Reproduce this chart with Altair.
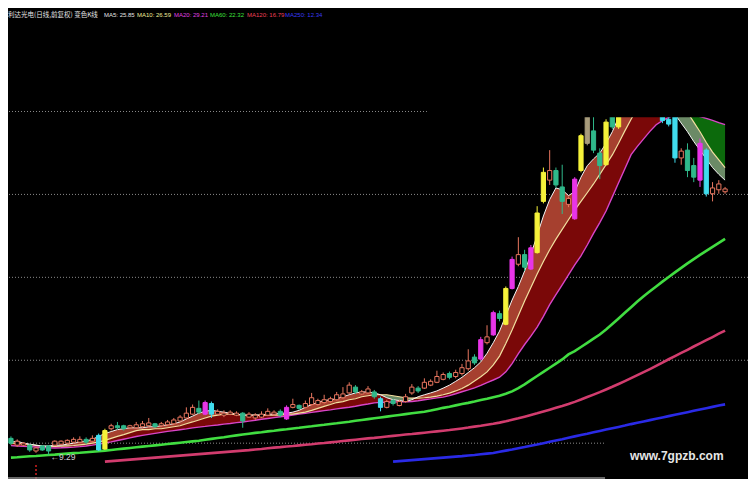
import altair as alt
import pandas as pd
import numpy as np

# ---------------- text ----------------
TITLE = "利达光电(日线,前复权) 变色K线"
MA_NAMES = ["MA5", "MA10", "MA20", "MA60", "MA120", "MA250"]
MA_LAST = ["25.85", "26.59", "29.21", "22.32", "16.79", "12.34"]
MA_TEXT_COLORS = ["#e6e6e6", "#f2ee9a", "#e040e0", "#3ee03e", "#f0405a", "#3a3af5"]
HEADER_X = [96, 129, 166, 202, 239, 277]
WATERMARK = "www.7gpzb.com"
GRID_PRICES = [10, 15, 20, 25, 30]

# ---------------- candles (bar index 0..114) ----------------
OPEN = [10.29, 9.88, 9.88, 9.88, 9.53, 9.83, 9.83, 9.88, 9.94, 10.00,
        10.06, 10.06, 10.23, 10.12, 10.47, 9.65, 10.87, 11.05, 11.05, 10.93,
        10.93, 10.99, 11.05, 11.17, 11.05, 11.11, 11.17, 11.34, 11.52, 11.75,
        12.10, 11.75, 12.39, 11.75, 11.69, 11.75, 11.69, 11.81, 11.57, 11.52,
        11.57, 11.69, 11.75, 11.92, 11.46, 12.16, 12.28, 12.16, 12.33, 12.33,
        12.45, 12.51, 12.62, 12.74, 13.03, 13.38, 12.97, 13.03, 13.09, 12.68,
        12.16, 12.57, 12.27, 12.51, 13.03, 13.32, 13.32, 13.50, 13.67, 13.85,
        14.20, 14.02, 14.20, 14.49, 15.19, 15.07, 16.06, 16.53, 17.81, 17.17,
        19.33, 20.79, 21.37, 20.50, 21.49, 24.58, 25.86, 26.44, 25.45, 24.40,
        23.53, 26.44, 28.08, 28.83, 27.49, 26.79, 30.12, 29.07, 30.40, 32.00,
        33.00, 32.30, 34.00, 33.00, 31.50, 29.53, 30.41, 27.20, 27.67, 26.74,
        28.08, 27.67, 25.04, 25.28, 25.16]
CLOSE = [10.00, 10.12, 10.00, 9.59, 9.71, 9.59, 9.53, 10.12, 10.12, 10.17,
         10.23, 10.23, 10.06, 10.29, 9.59, 10.76, 11.05, 10.93, 10.87, 11.05,
         11.11, 11.17, 11.22, 10.99, 11.17, 11.28, 11.40, 11.57, 11.81, 12.16,
         11.87, 12.45, 11.75, 11.92, 11.81, 11.87, 11.81, 11.34, 11.75, 11.69,
         11.75, 11.92, 11.87, 11.69, 12.16, 12.33, 12.10, 12.39, 12.74, 12.57,
         12.62, 12.68, 12.92, 12.97, 13.50, 13.09, 13.09, 13.27, 12.80, 12.16,
         12.51, 12.39, 12.51, 12.80, 13.38, 13.15, 13.67, 13.73, 14.02, 14.14,
         13.97, 14.26, 14.55, 14.96, 14.84, 16.24, 16.41, 17.87, 17.52, 19.33,
         21.08, 21.37, 20.61, 21.78, 23.88, 26.33, 26.44, 25.57, 24.58, 24.75,
         25.92, 28.54, 30.12, 27.67, 26.74, 29.36, 29.07, 30.41, 32.00, 32.80,
         32.20, 34.20, 33.00, 33.50, 29.45, 29.24, 27.20, 27.61, 26.44, 26.04,
         25.86, 25.04, 25.39, 25.63, 25.33]
HIGH = [10.41, 10.23, 10.06, 9.94, 9.77, 9.88, 9.88, 10.17, 10.17, 10.23,
        10.35, 10.41, 10.35, 10.47, 10.58, 10.87, 11.17, 11.28, 11.11, 11.11,
        11.28, 11.34, 11.52, 11.22, 11.28, 11.40, 11.52, 11.69, 12.16, 12.33,
        12.57, 12.57, 12.51, 12.04, 11.98, 11.98, 11.92, 11.87, 11.87, 11.81,
        11.92, 12.10, 11.98, 12.04, 12.28, 12.68, 12.33, 12.57, 13.03, 12.68,
        12.92, 12.80, 13.09, 13.38, 13.67, 13.50, 13.21, 13.44, 13.21, 12.80,
        12.62, 12.68, 12.62, 12.97, 13.56, 13.44, 13.91, 13.85, 14.37, 14.26,
        14.32, 14.43, 14.78, 15.66, 15.36, 16.41, 17.11, 17.99, 17.99, 19.45,
        21.25, 22.42, 21.66, 21.95, 24.29, 26.62, 27.67, 26.62, 26.79, 24.87,
        26.04, 28.66, 30.70, 29.83, 27.78, 29.53, 30.41, 30.70, 32.30, 33.40,
        33.60, 34.60, 35.00, 34.40, 32.00, 29.80, 30.70, 27.78, 28.08, 27.20,
        28.37, 27.78, 25.74, 25.86, 25.45]
LOW = [9.88, 9.77, 9.83, 9.48, 9.42, 9.53, 9.29, 9.83, 9.88, 9.94,
       10.00, 10.00, 9.94, 10.06, 9.53, 9.59, 10.76, 10.82, 10.76, 10.87,
       10.87, 10.93, 10.99, 10.93, 10.99, 11.05, 11.11, 11.28, 11.46, 11.69,
       11.75, 11.69, 11.52, 11.69, 11.57, 11.69, 11.63, 10.93, 11.52, 11.40,
       11.52, 11.63, 11.63, 11.57, 11.40, 12.10, 11.98, 12.10, 12.27, 12.27,
       12.39, 12.45, 12.57, 12.68, 12.97, 12.97, 12.92, 12.97, 12.68, 11.92,
       12.10, 12.27, 12.22, 12.45, 12.92, 13.03, 13.27, 13.44, 13.62, 13.79,
       13.85, 13.91, 14.08, 14.37, 14.72, 15.01, 15.95, 16.47, 17.35, 17.11,
       19.27, 20.67, 20.38, 20.44, 21.43, 24.46, 25.57, 25.39, 23.82, 24.23,
       23.47, 26.33, 27.96, 27.49, 25.92, 26.74, 28.95, 28.95, 30.20, 31.60,
       31.80, 32.00, 32.60, 32.20, 29.30, 29.10, 26.91, 26.79, 26.04, 25.74,
       25.45, 24.87, 24.58, 25.04, 25.04]
# h hollow-up, t teal, c cyan, y yellow, m magenta, g grey
KIND = list("thhthtthhh" "hhthcyhtth" "hhhthhhhhh" "tmchhhhthh" "hhhtmhthhh"
            "hhhhhthhtc" "hthhhthhhh" "thhhtmhmty" "mhtmyyhtth" "mygttytyyh"
            "tythccchtt" "mchhh")

# ---------------- moving averages ----------------
MA5 = [10.06, 10.12, 10.00, 9.94, 9.88, 9.83, 9.83, 9.88, 9.88, 9.94,
       10.00, 10.06, 10.12, 10.23, 10.41, 10.58, 10.70, 10.82, 10.87, 10.93,
       10.93, 10.93, 10.99, 10.99, 11.05, 11.11, 11.17, 11.28, 11.46, 11.63,
       11.81, 11.92, 11.98, 11.92, 11.87, 11.81, 11.75, 11.69, 11.69, 11.69,
       11.69, 11.75, 11.75, 11.81, 11.81, 11.87, 11.98, 12.16, 12.33, 12.45,
       12.57, 12.62, 12.68, 12.80, 12.92, 13.03, 13.09, 13.09, 13.03, 12.92,
       12.74, 12.62, 12.57, 12.51, 12.62, 12.80, 12.92, 13.03, 13.15, 13.32,
       13.50, 13.73, 13.97, 14.26, 14.55, 14.90, 15.42, 16.06, 16.76, 17.70,
       18.63, 19.45, 20.38, 21.37, 22.54, 23.70, 24.69, 25.39, 25.28, 24.93,
       25.16, 26.04, 26.73, 27.14, 27.49, 28.08, 28.78, 29.65, 30.41, 30.99,
       31.57, 31.87, 31.87, 31.57, 30.99, 30.41, 29.83, 29.30, 28.78, 28.19,
       27.67, 27.14, 26.62, 26.21, 25.86]
MA10 = [10.00, 9.98, 9.96, 9.92, 9.87, 9.82, 9.80, 9.80, 9.82, 9.84,
        9.86, 9.90, 9.94, 10.00, 10.06, 10.17, 10.29, 10.41, 10.52, 10.64,
        10.76, 10.82, 10.82, 10.87, 10.87, 10.93, 10.99, 11.05, 11.17, 11.28,
        11.40, 11.52, 11.63, 11.69, 11.75, 11.75, 11.72, 11.70, 11.69, 11.69,
        11.69, 11.69, 11.69, 11.69, 11.75, 11.75, 11.81, 11.87, 11.98, 12.10,
        12.22, 12.33, 12.45, 12.51, 12.62, 12.68, 12.80, 12.86, 12.92, 12.92,
        12.92, 12.86, 12.80, 12.74, 12.72, 12.72, 12.74, 12.78, 12.84, 12.92,
        13.02, 13.15, 13.30, 13.50, 13.75, 14.00, 14.30, 14.72, 15.25, 16.01,
        16.82, 17.70, 18.57, 19.39, 20.20, 20.96, 21.66, 22.30, 22.89, 23.47,
        24.05, 24.58, 25.10, 25.63, 26.21, 26.79, 27.38, 28.08, 28.83, 29.53,
        30.18, 30.70, 30.99, 31.11, 31.11, 30.99, 30.76, 30.41, 29.94, 29.36,
        28.78, 28.13, 27.55, 27.08, 26.62]
MA20 = [9.85, 9.83, 9.81, 9.79, 9.77, 9.74, 9.72, 9.71, 9.72, 9.74,
        9.76, 9.79, 9.83, 9.88, 9.94, 10.01, 10.08, 10.16, 10.24, 10.32,
        10.40, 10.47, 10.53, 10.59, 10.65, 10.71, 10.76, 10.81, 10.86, 10.92,
        10.97, 11.01, 11.06, 11.10, 11.15, 11.19, 11.24, 11.28, 11.33, 11.38,
        11.44, 11.49, 11.54, 11.59, 11.64, 11.70, 11.75, 11.80, 11.86, 11.91,
        11.96, 12.01, 12.07, 12.12, 12.17, 12.23, 12.30, 12.36, 12.43, 12.46,
        12.47, 12.48, 12.49, 12.50, 12.51, 12.56, 12.62, 12.67, 12.73, 12.78,
        12.87, 12.98, 13.10, 13.21, 13.33, 13.48, 13.65, 13.81, 13.98, 14.30,
        14.80, 15.40, 15.95, 16.45, 17.00, 17.65, 18.35, 18.95, 19.55, 20.15,
        20.75, 21.30, 21.95, 22.65, 23.30, 24.00, 24.85, 25.70, 26.55, 27.40,
        27.90, 28.35, 28.80, 29.20, 29.45, 29.65, 29.78, 29.83, 29.82, 29.77,
        29.70, 29.58, 29.46, 29.33, 29.21]
MA60 = [9.13, 9.15, 9.18, 9.21, 9.23, 9.26, 9.29, 9.31, 9.34, 9.37,
        9.40, 9.42, 9.45, 9.48, 9.51, 9.55, 9.59, 9.63, 9.67, 9.71,
        9.75, 9.79, 9.83, 9.87, 9.91, 9.95, 9.99, 10.03, 10.07, 10.11,
        10.15, 10.21, 10.26, 10.31, 10.36, 10.42, 10.47, 10.52, 10.57, 10.62,
        10.66, 10.71, 10.75, 10.80, 10.84, 10.89, 10.93, 10.98, 11.02, 11.07,
        11.11, 11.16, 11.20, 11.25, 11.29, 11.35, 11.40, 11.45, 11.50, 11.55,
        11.60, 11.65, 11.70, 11.75, 11.80, 11.85, 11.90, 11.97, 12.05, 12.13,
        12.20, 12.28, 12.36, 12.43, 12.51, 12.60, 12.68, 12.77, 12.86, 12.98,
        13.12, 13.32, 13.55, 13.80, 14.05, 14.30, 14.55, 14.80, 15.05, 15.35,
        15.55, 15.80, 16.05, 16.30, 16.55, 16.85, 17.18, 17.52, 17.86, 18.20,
        18.54, 18.86, 19.16, 19.45, 19.74, 20.02, 20.30, 20.57, 20.84, 21.10,
        21.35, 21.60, 21.84, 22.08, 22.32]
MA120_START = 15
MA120 = [8.89, 8.92, 8.95, 8.98, 9.01,
         9.04, 9.07, 9.10, 9.13, 9.16, 9.19, 9.22, 9.25, 9.28, 9.31,
         9.34, 9.37, 9.40, 9.43, 9.46, 9.49, 9.52, 9.55, 9.58, 9.62,
         9.65, 9.69, 9.73, 9.76, 9.80, 9.83, 9.87, 9.91, 9.94, 9.98,
         10.01, 10.05, 10.09, 10.13, 10.17, 10.21, 10.25, 10.29, 10.32, 10.36,
         10.40, 10.44, 10.48, 10.52, 10.55, 10.59, 10.63, 10.67, 10.71, 10.75,
         10.79, 10.84, 10.89, 10.94, 11.00, 11.05, 11.11, 11.17, 11.24, 11.32,
         11.41, 11.50, 11.60, 11.70, 11.80, 11.91, 12.02, 12.13, 12.24, 12.36,
         12.49, 12.63, 12.78, 12.93, 13.08, 13.24, 13.40, 13.57, 13.74, 13.92,
         14.10, 14.28, 14.47, 14.66, 14.86, 15.06, 15.25, 15.44, 15.63, 15.83,
         16.02, 16.21, 16.40, 16.60, 16.79]
MA250_START = 61
MA250 = [8.89, 8.92, 8.95, 8.98, 9.01, 9.04, 9.07, 9.10, 9.13,
         9.16, 9.19, 9.22, 9.26, 9.29, 9.33, 9.37, 9.41, 9.48, 9.55,
         9.62, 9.70, 9.77, 9.85, 9.92, 10.00, 10.08, 10.16, 10.24, 10.33,
         10.41, 10.49, 10.57, 10.66, 10.74, 10.82, 10.90, 10.98, 11.06, 11.15,
         11.23, 11.31, 11.39, 11.47, 11.55, 11.63, 11.71, 11.79, 11.87, 11.95,
         12.03, 12.11, 12.19, 12.27, 12.34]

# ---------------- styling ----------------
CANDLE_FILL = {"h": "#000000", "t": "#2fb88a", "c": "#40dced", "y": "#f5f23a",
               "m": "#e835e8", "g": "#a89c7c"}
CANDLE_STROKE = {"h": "#e8765f", "t": "#2fb88a", "c": "#40dced", "y": "#f5f23a",
                 "m": "#e835e8", "g": "#a89c7c"}
W, H = 740, 471
X_DOMAIN = [-0.47, 117.66]
Y_DOMAIN = [7.84, 36.24]
CLIP_FROM_BAR = 66.4      # top-right region of the screen is blanked
CLIP_PRICE = 29.65
WM_FROM_BAR = 94.84       # watermark box
WM_TOP_PRICE = 10.6
WM_TEXT_BAR = 106.3
WM_TEXT_PRICE = 9.24
BOTTOM_LINE_PRICE = 7.90
MARK_BAR = 4              # small red dotted marker at the bottom
MARK_PRICES = [7.84, 8.75]

xs = alt.Scale(domain=X_DOMAIN, nice=False, zero=False, padding=0)
ys = alt.Scale(domain=Y_DOMAIN, nice=False, zero=False, padding=0)


def X(f):
    return alt.X(f, type="quantitative", scale=xs, axis=None)


def Y(f):
    return alt.Y(f, type="quantitative", scale=ys, axis=None)


n = len(OPEN)
bars = list(range(n))
df = pd.DataFrame({"bar": bars, "open": OPEN, "close": CLOSE, "high": HIGH,
                   "low": LOW, "kind": KIND, "ma5": MA5, "ma10": MA10, "ma20": MA20,
                   "ma60": MA60})
df["fill"] = df["kind"].map(CANDLE_FILL)
df["stroke"] = df["kind"].map(CANDLE_STROKE)
df["up5"] = np.maximum(df["ma5"], df["ma10"])
df["lo5"] = np.minimum(df["ma5"], df["ma10"])
df["up10"] = np.maximum(df["ma10"], df["ma20"])
df["lo10"] = np.minimum(df["ma10"], df["ma20"])

df120 = pd.DataFrame({"bar": list(range(MA120_START, MA120_START + len(MA120))), "v": MA120})
df250 = pd.DataFrame({"bar": list(range(MA250_START, MA250_START + len(MA250))), "v": MA250})

grid = alt.Chart(pd.DataFrame({"p": GRID_PRICES})).mark_rule(
    color="#8a8a8a", strokeWidth=1, strokeDash=[1, 2]).encode(y=Y("p"))

base = alt.Chart(df)
band_dred = base.mark_area(color="#7a0808", opacity=1).encode(x=X("bar"), y=Y("ma20"), y2="up10")
band_dgreen = base.mark_area(color="#0c6a0c", opacity=1).encode(x=X("bar"), y=Y("lo10"), y2="ma20")
band_lred = base.mark_area(color="#a6402f", opacity=1).encode(x=X("bar"), y=Y("ma10"), y2="up5")
band_lgreen = base.mark_area(color="#6b8a66", opacity=1).encode(x=X("bar"), y=Y("lo5"), y2="ma10")

l250 = alt.Chart(df250).mark_line(color="#2a2ae6", strokeWidth=2.6).encode(x=X("bar"), y=Y("v"))
l120 = alt.Chart(df120).mark_line(color="#d23c6e", strokeWidth=2.6).encode(x=X("bar"), y=Y("v"))
l60 = base.mark_line(color="#41dd41", strokeWidth=2.6).encode(x=X("bar"), y=Y("ma60"))
l20 = base.mark_line(color="#d845c8", strokeWidth=1.4).encode(x=X("bar"), y=Y("ma20"))
l10 = base.mark_line(color="#f3e0a0", strokeWidth=1.2).encode(x=X("bar"), y=Y("ma10"))
l5 = base.mark_line(color="#f5f5f5", strokeWidth=1.0).encode(x=X("bar"), y=Y("ma5"))

wick = base.mark_rule(strokeWidth=1).encode(
    x=X("bar"), y=Y("low"), y2="high", color=alt.Color("stroke:N", scale=None))
body = base.mark_bar(size=4.2, strokeWidth=1).encode(
    x=X("bar"), y=Y("open"), y2="close",
    fill=alt.Fill("fill:N", scale=None), stroke=alt.Stroke("stroke:N", scale=None))

marker = alt.Chart(pd.DataFrame({"bar": [MARK_BAR], "a": [MARK_PRICES[0]], "b": [MARK_PRICES[1]]})).mark_rule(
    color="#d42020", strokeWidth=1.5, strokeDash=[2, 2]).encode(x=X("bar"), y=Y("a"), y2="b")

bottom_line = alt.Chart(pd.DataFrame({"p": [BOTTOM_LINE_PRICE]})).mark_rule(
    color="#8c8c8c", strokeWidth=1.5).encode(y=Y("p"))

clip_box = alt.Chart(pd.DataFrame({"x1": [CLIP_FROM_BAR], "x2": [X_DOMAIN[1]],
                                   "y1": [CLIP_PRICE], "y2": [Y_DOMAIN[1]]})).mark_rect(
    color="#000000").encode(x=X("x1"), x2="x2", y=Y("y1"), y2="y2")
wm_box = alt.Chart(pd.DataFrame({"x1": [WM_FROM_BAR], "x2": [X_DOMAIN[1]],
                                 "y1": [Y_DOMAIN[0]], "y2": [WM_TOP_PRICE]})).mark_rect(
    color="#000000").encode(x=X("x1"), x2="x2", y=Y("y1"), y2="y2")
wm_text = alt.Chart(pd.DataFrame({"bar": [WM_TEXT_BAR], "p": [WM_TEXT_PRICE], "t": [WATERMARK]})).mark_text(
    font="Liberation Sans", fontSize=12, fontWeight="bold", color="#e6e6e6", align="center",
    baseline="middle").encode(x=X("bar"), y=Y("p"), text="t:N")

lo_i = int(np.argmin(LOW))
low_df = pd.DataFrame({"bar": [lo_i], "p": [LOW[lo_i]], "t": ["\u2190%.2f" % LOW[lo_i]]})
low_text = alt.Chart(low_df).mark_text(
    font="Liberation Sans", fontSize=8.5, color="#d0d0d0", align="left",
    baseline="top", dx=2, dy=-2).encode(x=X("bar"), y=Y("p"), text="t:N")

title_text = alt.Chart(pd.DataFrame({"t": [TITLE]})).mark_text(
    font="Noto Sans CJK SC", fontSize=6.5, color="#e6e6e6", align="left", baseline="middle").encode(
    x=alt.value(0), y=alt.value(7), text="t:N")
hdr = pd.DataFrame({"t": [f"{a}: {b}" for a, b in zip(MA_NAMES, MA_LAST)],
                    "px": HEADER_X, "col": MA_TEXT_COLORS})
hdr_text = alt.Chart(hdr).mark_text(
    font="Liberation Sans", fontSize=6.0, align="left", baseline="middle").encode(
    x=alt.X("px:Q", scale=None), y=alt.value(7), text="t:N", color=alt.Color("col:N", scale=None))

chart = alt.layer(
    grid, band_dred, band_dgreen, band_lred, band_lgreen,
    l250, l120, l60, l20, l10, l5,
    wick, body, marker, bottom_line, clip_box, wm_box, wm_text, low_text,
    title_text, hdr_text
).properties(
    width=W, height=H, background="#000000", padding=0,
    autosize=alt.AutoSizeParams(type="none")
).configure_view(stroke=None)

chart.save("out.html", embed_options={"renderer": "svg", "actions": False})
